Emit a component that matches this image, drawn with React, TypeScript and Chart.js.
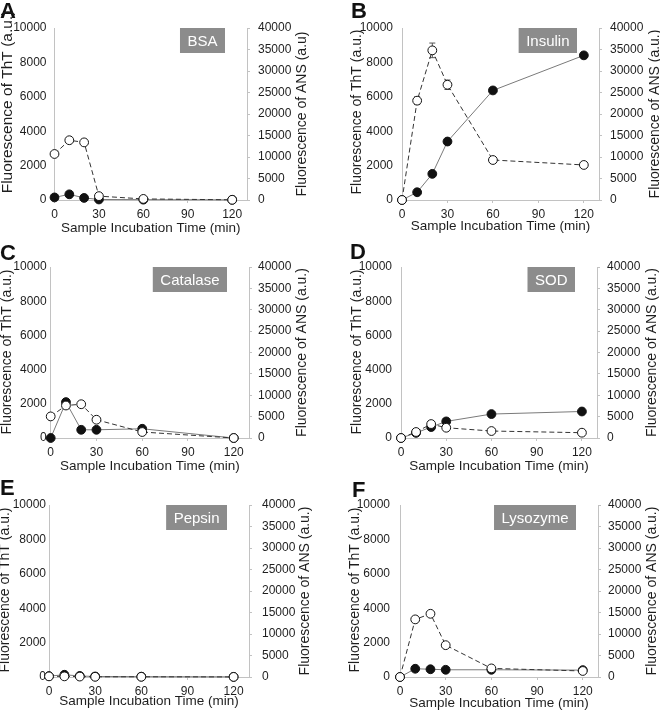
import React, { useEffect, useRef } from "react";
import { Chart, registerables } from "chart.js";

Chart.register(...registerables);

// ---------- data ----------
const times = [0, 10, 20, 30, 60, 120];
const xTicks = [0, 30, 60, 90, 120];
const thtTicks = [0, 2000, 4000, 6000, 8000, 10000];
const ansTicks = [0, 5000, 10000, 15000, 20000, 25000, 30000, 35000, 40000];

const panelLetters = ["A", "B", "C", "D", "E", "F"];
const proteinNames = ["BSA", "Insulin", "Catalase", "SOD", "Pepsin", "Lysozyme"];

const bsaThT = [150, 330, 120, 30, 20, 10];
const bsaANS = [10700, 13900, 13400, 900, 250, 50];

const insulinThT = [0, 450, 1520, 3400, 6370, 8410];
const insulinANS = [0, 23100, 34800, 26800, 9300, 8150];
const insulinANSErr = [0, 900, 1700, 1100, 0, 0];

const catalaseThT = [0, 2100, 480, 480, 540, 0];
const catalaseANS = [5050, 7600, 7900, 4270, 1400, 0];

const sodThT = [0, 300, 640, 970, 1400, 1550];
const sodANS = [0, 1400, 3260, 2400, 1630, 1240];

const pepsinThT = [50, 130, 60, 30, 20, 10];
const pepsinANS = [150, 150, 100, 50, 50, 20];

const lysozymeThT = [0, 480, 450, 420, 420, 400];
const lysozymeANS = [0, 13400, 14700, 7400, 2000, 1400];

const noErr = [0, 0, 0, 0, 0, 0];

const thtSeries = [bsaThT, insulinThT, catalaseThT, sodThT, pepsinThT, lysozymeThT];
const ansSeries = [bsaANS, insulinANS, catalaseANS, sodANS, pepsinANS, lysozymeANS];
const ansErrSeries = [noErr, insulinANSErr, noErr, noErr, noErr, noErr];

const leftTitle = "Fluorescence of ThT (a.u.)";
const rightTitles = [
  "Fluorescence of ANS (a.u)",
  "Fluorescence of ANS (a.u.)",
  "Fluorescence of ANS (a.u.)",
  "Fluorescence of ANS (a.u.)",
  "Fluorescence of ANS (a.u.)",
  "Fluorescence of ANS (a.u.)",
];
const xTitle = "Sample Incubation Time (min)";

// ---------- layout ----------
const FONT = "'Liberation Sans', Arial, sans-serif";
const TEXT = "#1e1e1e";
const AXIS = "#c2c2c2";

const layouts = [
  { left: 0, top: 0, w: 330, h: 240, L: 54.5, R: 247, T: 28, B: 200, letterX: 0, letterY: 18, lTX: 8, lTSize: 15.5, lTY: 102, rTX: 302, xTY: 228, padL: 8, padR: 8 },
  { left: 330, top: 0, w: 330, h: 240, L: 72, R: 269, T: 28, B: 200, letterX: 21, letterY: 18, lTX: 27, lTSize: 14, lTY: 112, rTX: 325, xTY: 226, padL: 9, padR: 8 },
  { left: 0, top: 238, w: 330, h: 238, L: 50.7, R: 249, T: 29, B: 200, letterX: 0, letterY: 22, lTX: 7, lTSize: 14, lTY: 114, rTX: 302, xTY: 228, padL: 4, padR: 6 },
  { left: 330, top: 238, w: 330, h: 238, L: 71, R: 267, T: 29, B: 200, letterX: 20, letterY: 21, lTX: 27, lTSize: 14, lTY: 114, rTX: 322, xTY: 228, padL: 9, padR: 7 },
  { left: 0, top: 476, w: 330, h: 238, L: 49, R: 249, T: 29, B: 201, letterX: 0, letterY: 19, lTX: 5, lTSize: 14, lTY: 114, rTX: 305, xTY: 225, padL: 3, padR: 10 },
  { left: 330, top: 476, w: 330, h: 238, L: 70, R: 268, T: 29, B: 201, letterX: 22, letterY: 21, lTX: 25, lTSize: 14, lTY: 114, rTX: 322, xTY: 227, padL: 10, padR: 7 },
];

const plain = (v: any) => String(v);

function makeDecor(idx: number) {
  const lay = layouts[idx];
  return {
    id: "decor" + idx,
    beforeDatasetsDraw(chart: any) {
      const ctx = chart.ctx;
      const xs = chart.scales.x;
      const yr = chart.scales.yR;
      const vals = ansSeries[idx];
      const errs = ansErrSeries[idx];
      ctx.save();
      ctx.strokeStyle = "#555";
      ctx.lineWidth = 1;
      for (let j = 0; j < times.length; j++) {
        if (!errs[j]) continue;
        const px = xs.getPixelForValue(times[j]);
        const y1 = yr.getPixelForValue(vals[j] + errs[j]);
        const y2 = yr.getPixelForValue(vals[j] - errs[j]);
        ctx.beginPath();
        ctx.moveTo(px, y1);
        ctx.lineTo(px, y2);
        ctx.moveTo(px - 3, y1);
        ctx.lineTo(px + 3, y1);
        ctx.moveTo(px - 3, y2);
        ctx.lineTo(px + 3, y2);
        ctx.stroke();
      }
      ctx.restore();
    },
    afterDraw(chart: any) {
      const ctx = chart.ctx;
      const ca = chart.chartArea;
      ctx.save();
      // panel letter
      ctx.fillStyle = "#111";
      ctx.font = `bold 22px ${FONT}`;
      ctx.textAlign = "left";
      ctx.textBaseline = "alphabetic";
      ctx.fillText(panelLetters[idx], lay.letterX, lay.letterY);
      // protein label box
      ctx.font = `15px ${FONT}`;
      const name = proteinNames[idx];
      const tw = ctx.measureText(name).width;
      const bw = tw + 15;
      const bh = 25;
      const bx = ca.right - 22 - bw;
      const by = ca.top;
      ctx.fillStyle = "#8c8c8c";
      ctx.fillRect(bx, by, bw, bh);
      ctx.fillStyle = "#fff";
      ctx.textAlign = "center";
      ctx.textBaseline = "middle";
      ctx.fillText(name, bx + bw / 2, by + bh / 2 + 1);
      // axis titles
      ctx.fillStyle = TEXT;
      ctx.font = `${lay.lTSize}px ${FONT}`;
      ctx.save();
      ctx.translate(lay.lTX, lay.lTY);
      ctx.rotate(-Math.PI / 2);
      ctx.fillText(leftTitle, 0, 0);
      ctx.restore();
      ctx.font = `14px ${FONT}`;
      ctx.save();
      ctx.translate(lay.rTX, (ca.top + ca.bottom) / 2);
      ctx.rotate(-Math.PI / 2);
      ctx.fillText(rightTitles[idx], 0, 0);
      ctx.restore();
      ctx.font = `13.5px ${FONT}`;
      ctx.fillText(xTitle, (ca.left + ca.right) / 2, lay.xTY);
      ctx.restore();
    },
  };
}

function makeConfig(idx: number): any {
  const lay = layouts[idx];
  const tickFont = { family: FONT, size: 12 };
  return {
    type: "line",
    data: {
      labels: times,
      datasets: [
        {
          label: "ANS",
          data: times.map((t, j) => ({ x: t, y: ansSeries[idx][j] })),
          yAxisID: "yR",
          borderColor: "#333",
          borderWidth: 1,
          borderDash: [5, 3],
          pointRadius: 4.4,
          pointBackgroundColor: "#fff",
          pointBorderColor: "#111",
          pointBorderWidth: 1,
          tension: 0,
          clip: false,
        },
        {
          label: "ThT",
          data: times.map((t, j) => ({ x: t, y: thtSeries[idx][j] })),
          yAxisID: "y",
          borderColor: "#7a7a7a",
          borderWidth: 1,
          pointRadius: 4.4,
          pointBackgroundColor: "#111",
          pointBorderColor: "#111",
          pointBorderWidth: 1,
          tension: 0,
          clip: false,
        },
      ],
    },
    options: {
      responsive: false,
      animation: false,
      devicePixelRatio: 1,
      layout: { padding: { top: lay.T, left: 0, right: 0, bottom: 0 } },
      plugins: { legend: { display: false }, tooltip: { enabled: false }, title: { display: false } },
      scales: {
        x: {
          type: "linear",
          position: "bottom",
          min: 0,
          max: 130,
          afterBuildTicks: (s: any) => {
            s.ticks = xTicks.map((v) => ({ value: v }));
          },
          afterFit: (s: any) => {
            s.height = lay.h - lay.B;
          },
          ticks: { font: tickFont, color: TEXT, padding: 4, maxRotation: 0, autoSkip: false, callback: plain },
          grid: { display: true, drawOnChartArea: false, drawTicks: true, tickLength: 3, color: AXIS },
          border: { display: true, color: AXIS, width: 1 },
        },
        y: {
          type: "linear",
          position: "left",
          min: 0,
          max: 10000,
          afterBuildTicks: (s: any) => {
            s.ticks = thtTicks.map((v) => ({ value: v }));
          },
          afterFit: (s: any) => {
            s.width = lay.L;
          },
          ticks: { font: tickFont, color: TEXT, padding: lay.padL, callback: plain },
          grid: { display: false, drawTicks: false },
          border: { display: true, color: AXIS, width: 1 },
        },
        yR: {
          type: "linear",
          position: "right",
          min: 0,
          max: 40000,
          afterBuildTicks: (s: any) => {
            s.ticks = ansTicks.map((v) => ({ value: v }));
          },
          afterFit: (s: any) => {
            s.width = lay.w - lay.R;
          },
          ticks: { font: tickFont, color: TEXT, padding: lay.padR, callback: plain },
          grid: { display: true, drawOnChartArea: false, drawTicks: true, tickLength: 3, color: AXIS },
          border: { display: true, color: AXIS, width: 1 },
        },
      },
    },
    plugins: [makeDecor(idx)],
  };
}

function Panel({ idx }: { idx: number }) {
  const ref = useRef<HTMLCanvasElement>(null);
  useEffect(() => {
    const chart = new Chart(ref.current as HTMLCanvasElement, makeConfig(idx));
    return () => chart.destroy();
  }, [idx]);
  const lay = layouts[idx];
  return (
    <canvas
      ref={ref}
      width={lay.w}
      height={lay.h}
      style={{ position: "absolute", left: lay.left, top: lay.top, width: lay.w, height: lay.h }}
    />
  );
}

export default function App() {
  return (
    <div style={{ position: "absolute", left: 0, top: 0, width: 660, height: 714, background: "#fff", overflow: "hidden" }}>
      {layouts.map((_, i) => (
        <Panel key={i} idx={i} />
      ))}
    </div>
  );
}
